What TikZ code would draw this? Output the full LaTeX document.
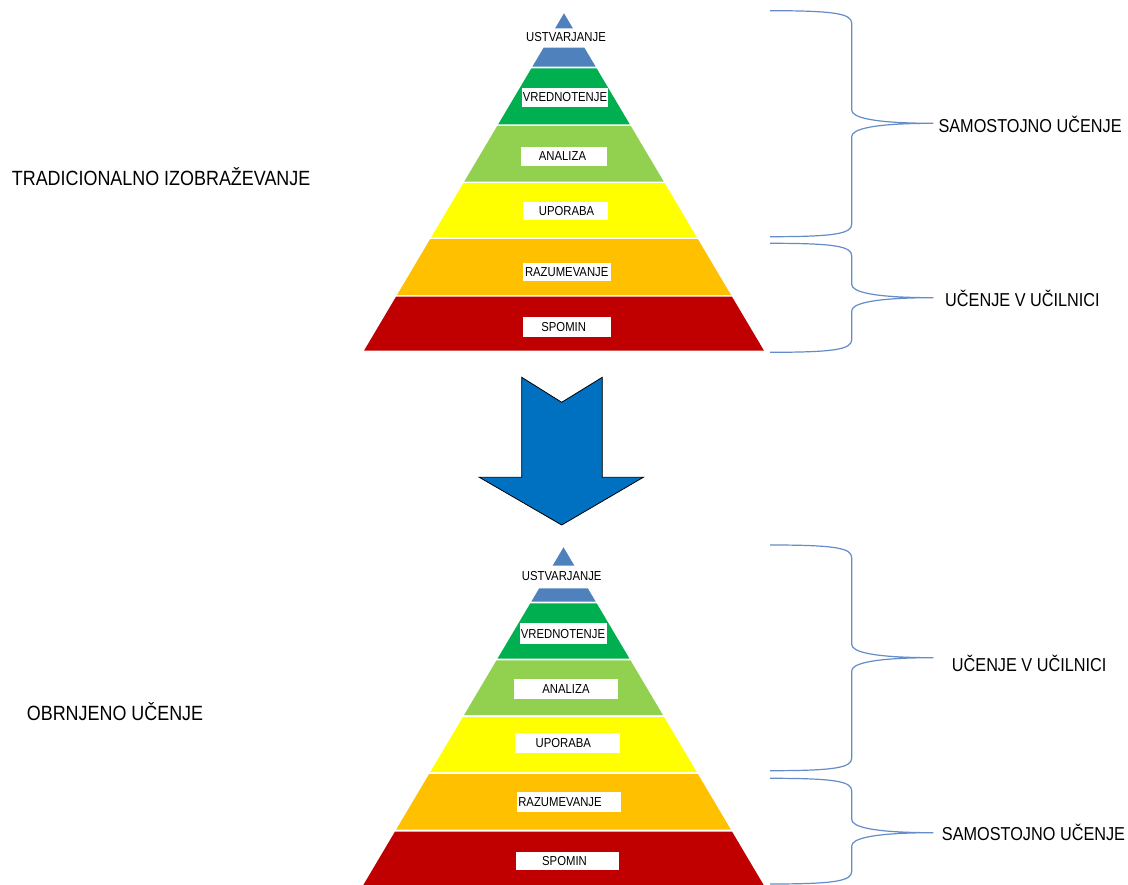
\documentclass[tikz,border=0pt]{standalone}
\usepackage{fontspec}
\setmainfont[FakeStretch=0.87]{Liberation Sans}
\definecolor{pblue}{HTML}{4F81BD}
\definecolor{pgreen}{HTML}{00B050}
\definecolor{plgreen}{HTML}{92D050}
\definecolor{pyellow}{HTML}{FFFF00}
\definecolor{porange}{HTML}{FFC000}
\definecolor{pred}{HTML}{C00000}
\definecolor{arrowblue}{HTML}{0070C0}
\definecolor{bracecol}{RGB}{100,140,200}
\newcommand\pyrband[5]{%
  \pgfmathsetmacro\hwa{0.5928*(#3-#2)}%
  \pgfmathsetmacro\hwb{0.5928*(#4-#2)}%
  \fill[#5] ({#1-\hwa},#3) -- ({#1+\hwa},#3) -- ({#1+\hwb},#4) -- ({#1-\hwb},#4) -- cycle;}
\tikzset{
  lblbox/.style={draw=none, fill=white, inner sep=0pt},
  lbltext/.style={inner sep=0pt, font=\fontsize{13}{15}\selectfont, text=black},
  bigtext/.style={inner sep=0pt, anchor=west, font=\fontsize{20.6}{24}\selectfont, text=black},
  sidetext/.style={inner sep=0pt, anchor=west, font=\fontsize{18.7}{22}\selectfont, text=black},
  bracepath/.style={draw=bracecol, line width=1.2pt},
  bigarrow/.style={fill=arrowblue, draw=black, line width=0.8pt, line join=miter}
}
\newcommand\curlybr[4]{% name, top y, tip y, bottom y
  \coordinate (#1-top) at (770,#2);
  \coordinate (#1-tip) at (933.3,#3);
  \coordinate (#1-bot) at (770,#4);
  \draw[bracepath] (#1-top) .. controls (835,#2) and (851.7,{#2+3}) .. (851.7,{#2+12.6})
     -- (851.7,{#3-13.3}) .. controls (851.7,{#3-6}) and (872,#3) .. (#1-tip)
     .. controls (872,#3) and (851.7,{#3+6}) .. (851.7,{#3+13.3})
     -- (851.7,{#4-12.6}) .. controls (851.7,{#4-3}) and (835,#4) .. (#1-bot);}
\begin{document}
\begin{tikzpicture}[x=1pt,y=-1pt]
\useasboundingbox (0,0) rectangle (1128,885);
\clip (0,0) rectangle (1128,885);
\fill[white] (0,0) rectangle (1128,885);

% ---------- top pyramid ----------
\pyrband{564}{13.3}{13.3}{28.3}{pblue}
\pyrband{564}{13.3}{47.7}{66.7}{pblue}
\pyrband{564}{13.3}{68.5}{124.3}{pgreen}
\pyrband{564}{13.3}{125.8}{181.7}{plgreen}
\pyrband{564}{13.3}{183.2}{237.7}{pyellow}
\pyrband{564}{13.3}{239.2}{295.2}{porange}
\pyrband{564}{13.3}{296.7}{350.7}{pred}

\node[lbltext] (t-ust) at (566,37) {USTVARJANJE};
\node[lblbox, minimum width=86.6pt, minimum height=18.4pt] (t-vre-b) at (565,97.5) {};
\node[lbltext] (t-vre) at (565,97.5) {VREDNOTENJE};
\node[lblbox, minimum width=85.4pt, minimum height=18.7pt] (t-ana-b) at (564,156.3) {};
\node[lbltext] (t-ana) at (562.5,156.3) {ANALIZA};
\node[lblbox, minimum width=85pt, minimum height=18.3pt] (t-upo-b) at (565.2,210.8) {};
\node[lbltext] (t-upo) at (566.5,210.8) {UPORABA};
\node[lblbox, minimum width=87.4pt, minimum height=18.3pt] (t-raz-b) at (567,271.8) {};
\node[lbltext] (t-raz) at (566.7,271.8) {RAZUMEVANJE};
\node[lblbox, minimum width=87.4pt, minimum height=20pt] (t-spo-b) at (567,326.7) {};
\node[lbltext] (t-spo) at (563.7,326.7) {SPOMIN};

% ---------- arrow ----------
\draw[bigarrow] (521.7,377.3) -- (561.7,402.3) -- (602.3,377.3) -- (602.3,477.3)
  -- (643.3,477.3) -- (561.7,525) -- (479.3,477.3) -- (521.7,477.3) -- cycle;

% ---------- bottom pyramid ----------
\pyrband{563.5}{547.3}{547.3}{565.7}{pblue}
\pyrband{563.5}{547.3}{588.3}{601.7}{pblue}
\pyrband{563.5}{547.3}{603.3}{658.5}{pgreen}
\pyrband{563.5}{547.3}{660.3}{715}{plgreen}
\pyrband{563.5}{547.3}{717}{772}{pyellow}
\pyrband{563.5}{547.3}{774}{829.5}{porange}
\pyrband{563.5}{547.3}{831.5}{890}{pred}

\node[lbltext] (b-ust) at (561.7,575.7) {USTVARJANJE};
\node[lblbox, minimum width=86.7pt, minimum height=20.7pt] (b-vre-b) at (563.3,633.7) {};
\node[lbltext] (b-vre) at (563,633.7) {VREDNOTENJE};
\node[lblbox, minimum width=104.3pt, minimum height=20pt] (b-ana-b) at (566.2,689.3) {};
\node[lbltext] (b-ana) at (566,689.3) {ANALIZA};
\node[lblbox, minimum width=105pt, minimum height=20.6pt] (b-upo-b) at (567.5,743) {};
\node[lbltext] (b-upo) at (563.3,743) {UPORABA};
\node[lblbox, minimum width=104pt, minimum height=20pt] (b-raz-b) at (568.7,801.7) {};
\node[lbltext] (b-raz) at (560,801.7) {RAZUMEVANJE};
\node[lblbox, minimum width=103.6pt, minimum height=18.3pt] (b-spo-b) at (567.5,860.8) {};
\node[lbltext] (b-spo) at (564.5,860.8) {SPOMIN};

% ---------- left texts ----------
\node[bigtext] (lt1) at (11.7,176.7) {TRADICIONALNO IZOBRAŽEVANJE};
\node[bigtext] (lt2) at (26.7,711.7) {OBRNJENO UČENJE};

% ---------- braces ----------
\curlybr{br1}{10.7}{123.3}{236.7}
\curlybr{br2}{243.3}{297.7}{352.3}
\curlybr{br3}{545}{657.7}{770.7}
\curlybr{br4}{778.3}{832.7}{884}

\node[sidetext] (rt1) at (938.3,124) {SAMOSTOJNO UČENJE};
\node[sidetext] (rt2) at (945,298.5) {UČENJE V UČILNICI};
\node[sidetext] (rt3) at (951.7,663) {UČENJE V UČILNICI};
\node[sidetext] (rt4) at (941.7,832) {SAMOSTOJNO UČENJE};
\end{tikzpicture}
\end{document}
